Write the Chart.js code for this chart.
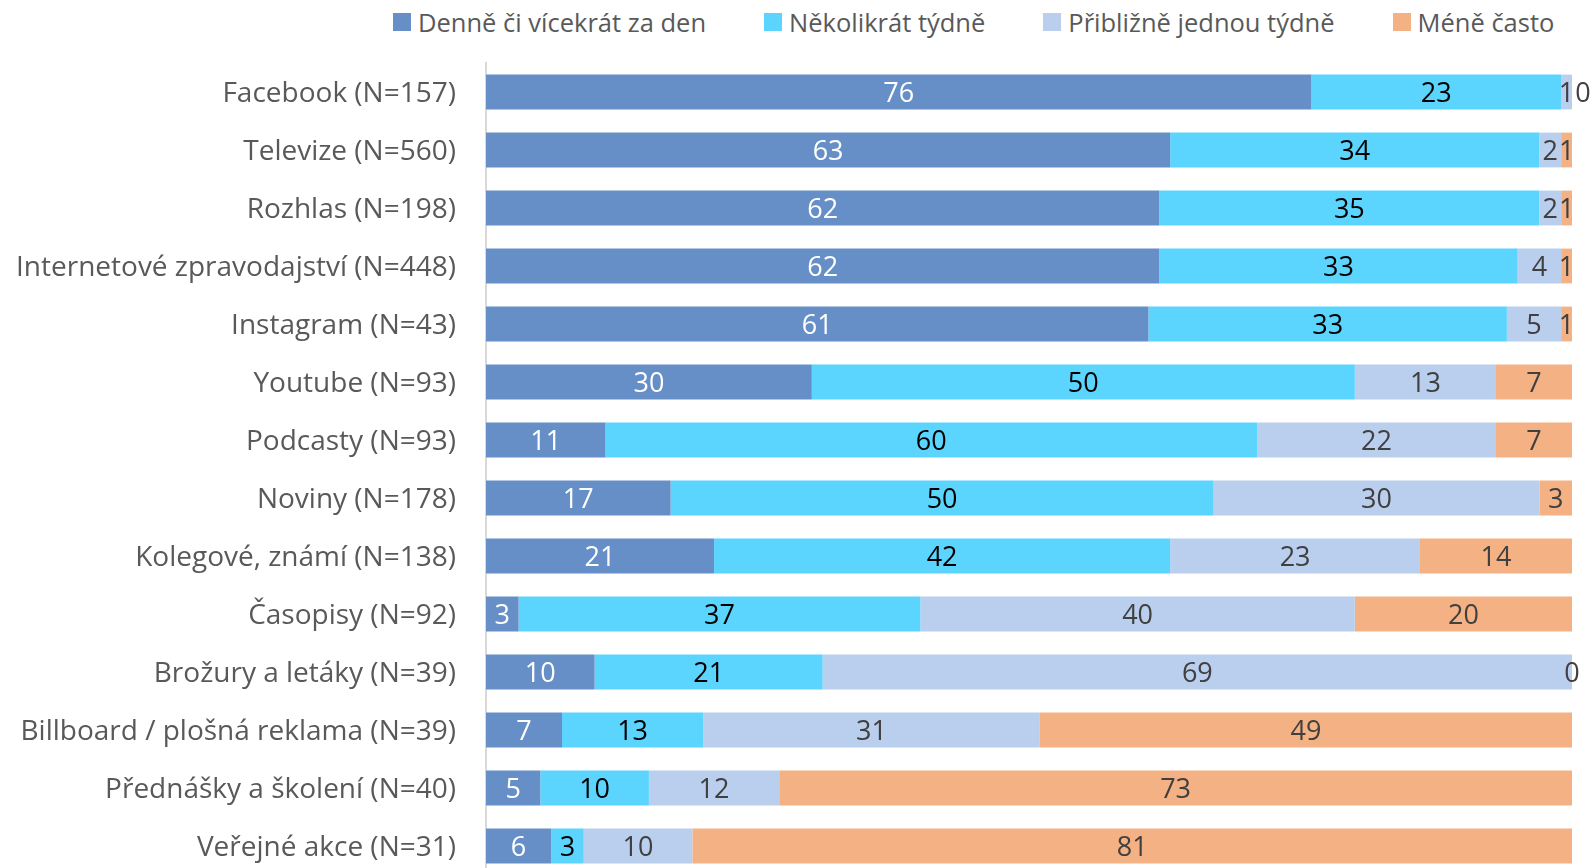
<!DOCTYPE html>
<html lang="cs">
<head>
<meta charset="utf-8">
<title>Frekvence využívání zdrojů</title>
<script src="https://cdn.jsdelivr.net/npm/chart.js@4.4.1/dist/chart.umd.min.js"></script>
<style>
  html, body { margin: 0; padding: 0; background: #fff; }
  #wrap { position: relative; width: 1596px; height: 868px; overflow: hidden; }
  #legend {
    position: absolute; top: 0; left: 0; width: 1596px; height: 43px;
    display: flex; align-items: center; gap: 58px; padding-left: 393px; box-sizing: border-box;
    font-family: "Open Sans", sans-serif; font-size: 25.5px; color: #595959; white-space: nowrap;
  }
  #legend .item { display: flex; align-items: center; }
  #legend .box { width: 18px; height: 18px; margin-right: 7px; }
  #chartBox { position: absolute; top: 0; left: 0; width: 1596px; height: 876px; }
</style>
</head>
<body>
<div id="wrap">
  <div id="legend"></div>
  <div id="chartBox"><canvas id="chart"></canvas></div>
</div>
<script>
// data (percent of respondents)
const categories = [
  'Facebook (N=157)', 'Televize (N=560)', 'Rozhlas (N=198)', 'Internetové zpravodajství (N=448)',
  'Instagram (N=43)', 'Youtube (N=93)', 'Podcasty (N=93)', 'Noviny (N=178)',
  'Kolegové, známí (N=138)', 'Časopisy (N=92)', 'Brožury a letáky (N=39)',
  'Billboard / plošná reklama (N=39)', 'Přednášky a školení (N=40)', 'Veřejné akce (N=31)'
];
const seriesNames = ['Denně či vícekrát za den', 'Několikrát týdně', 'Přibližně jednou týdně', 'Méně často'];
const daily   = [76, 63, 62, 62, 61, 30, 11, 17, 21,  3, 10,  7,  5,  6];
const several = [23, 34, 35, 33, 33, 50, 60, 50, 42, 37, 21, 13, 10,  3];
const weekly  = [ 1,  2,  2,  4,  5, 13, 22, 30, 23, 40, 69, 31, 12, 10];
const rarely  = [ 0,  1,  1,  1,  1,  7,  7,  3, 14, 20,  0, 49, 73, 81];

const colors = ['#658fc6', '#5bd4fe', '#b9cfed', '#f4b183'];
const labelColors = ['#ffffff', '#000000', '#404040', '#404040'];
const FONT = '"Open Sans", sans-serif';

// data labels centred in each segment, nudged right if they would overlap
const segmentLabels = {
  id: 'segmentLabels',
  afterDatasetsDraw(chart) {
    const ctx = chart.ctx;
    ctx.save();
    ctx.font = '27px ' + FONT;
    ctx.textAlign = 'left';
    ctx.textBaseline = 'middle';
    const lastRight = {};
    chart.data.datasets.forEach((ds, di) => {
      const meta = chart.getDatasetMeta(di);
      meta.data.forEach((bar, i) => {
        const { x, y, base } = bar.getProps(['x', 'y', 'base'], true);
        const txt = String(ds.data[i]);
        const w = ctx.measureText(txt).width;
        let left = (x + base) / 2 - w / 2;
        if (lastRight[i] !== undefined && left < lastRight[i] + 1) left = lastRight[i] + 1;
        ctx.fillStyle = labelColors[di];
        ctx.fillText(txt, left, y + 2.5);
        lastRight[i] = left + w;
      });
    });
    ctx.restore();
  }
};

const seriesData = [daily, several, weekly, rarely];
const datasets = seriesNames.map((name, i) => ({
  label: name,
  data: seriesData[i],
  backgroundColor: colors[i],
  borderWidth: 0,
  categoryPercentage: 1,
  barPercentage: 0.6
}));

// HTML legend built from the datasets
const legendEl = document.getElementById('legend');
datasets.forEach(ds => {
  const item = document.createElement('div');
  item.className = 'item';
  item.innerHTML = `<span class="box" style="background:${ds.backgroundColor}"></span><span>${ds.label}</span>`;
  legendEl.appendChild(item);
});

new Chart(document.getElementById('chart'), {
  type: 'bar',
  data: { labels: categories, datasets },
  plugins: [segmentLabels],
  options: {
    indexAxis: 'y',
    responsive: true,
    maintainAspectRatio: false,
    animation: false,
    devicePixelRatio: 1,
    layout: { padding: { top: 63, bottom: 1, left: 0, right: 24 } },
    plugins: {
      legend: { display: false },
      tooltip: { enabled: false }
    },
    scales: {
      x: {
        stacked: true, min: 0, max: 100, display: false
      },
      y: {
        stacked: true,
        grid: { display: false, drawTicks: false },
        border: { display: true, color: '#d9d9d9', width: 2 },
        ticks: {
          color: '#595959',
          font: { family: FONT, size: 28 },
          padding: 30,
          labelOffset: 2,
          autoSkip: false
        },
        // fixed axis width, and no extra label padding at top/bottom
        afterFit(scale) {
          scale.width = 486;
          scale.paddingTop = 0;
          scale.paddingBottom = 0;
        }
      }
    }
  }
});
</script>
</body>
</html>
